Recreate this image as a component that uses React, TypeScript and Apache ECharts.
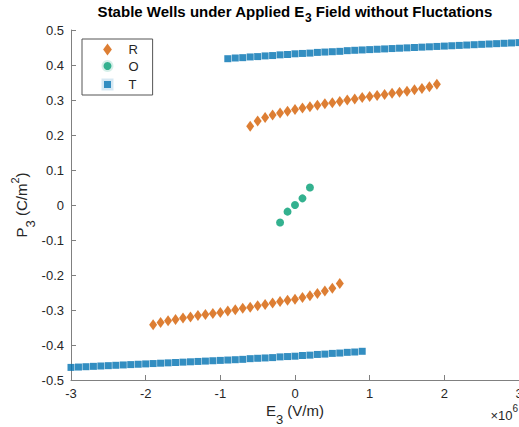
import React, { useEffect, useRef } from "react";
import * as echarts from "echarts";

// E3 in units of 1e6 V/m, P3 in C/m^2
const rUpperE = [-0.6, -0.5, -0.4, -0.3, -0.2, -0.1, 0.0, 0.1, 0.2, 0.3, 0.4, 0.5, 0.6, 0.7, 0.8, 0.9, 1.0, 1.1, 1.2, 1.3, 1.4, 1.5, 1.6, 1.7, 1.8, 1.9];
const rUpperP = [0.225, 0.240, 0.250, 0.257, 0.263, 0.268, 0.273, 0.277, 0.281, 0.285, 0.289, 0.292, 0.296, 0.300, 0.303, 0.307, 0.310, 0.313, 0.316, 0.319, 0.322, 0.325, 0.329, 0.333, 0.338, 0.345];
const rLowerE = [-1.9, -1.8, -1.7, -1.6, -1.5, -1.4, -1.3, -1.2, -1.1, -1.0, -0.9, -0.8, -0.7, -0.6, -0.5, -0.4, -0.3, -0.2, -0.1, 0.0, 0.1, 0.2, 0.3, 0.4, 0.5, 0.6];
const rLowerP = [-0.342, -0.336, -0.331, -0.327, -0.323, -0.320, -0.316, -0.313, -0.310, -0.307, -0.303, -0.299, -0.295, -0.292, -0.288, -0.284, -0.280, -0.276, -0.272, -0.269, -0.264, -0.259, -0.253, -0.246, -0.238, -0.224];
const oE = [-0.2, -0.1, 0.0, 0.1, 0.2];
const oP = [-0.05, -0.019, 0.0, 0.019, 0.05];
const tUpperE = [-0.9, -0.8, -0.7, -0.6, -0.5, -0.4, -0.3, -0.2, -0.1, 0.0, 0.1, 0.2, 0.3, 0.4, 0.5, 0.6, 0.7, 0.8, 0.9, 1.0, 1.1, 1.2, 1.3, 1.4, 1.5, 1.6, 1.7, 1.8, 1.9, 2.0, 2.1, 2.2, 2.3, 2.4, 2.5, 2.6, 2.7, 2.8, 2.9, 3.0];
const tUpperP = [0.418, 0.420, 0.421, 0.423, 0.424, 0.426, 0.427, 0.429, 0.430, 0.432, 0.433, 0.434, 0.436, 0.437, 0.438, 0.439, 0.441, 0.442, 0.443, 0.444, 0.445, 0.446, 0.447, 0.448, 0.449, 0.450, 0.451, 0.452, 0.453, 0.454, 0.455, 0.456, 0.457, 0.458, 0.459, 0.460, 0.461, 0.462, 0.463, 0.464];
const tLowerE = [-3.0, -2.9, -2.8, -2.7, -2.6, -2.5, -2.4, -2.3, -2.2, -2.1, -2.0, -1.9, -1.8, -1.7, -1.6, -1.5, -1.4, -1.3, -1.2, -1.1, -1.0, -0.9, -0.8, -0.7, -0.6, -0.5, -0.4, -0.3, -0.2, -0.1, 0.0, 0.1, 0.2, 0.3, 0.4, 0.5, 0.6, 0.7, 0.8, 0.9];
const tLowerP = [-0.464, -0.463, -0.462, -0.461, -0.460, -0.459, -0.458, -0.457, -0.456, -0.455, -0.454, -0.453, -0.452, -0.451, -0.450, -0.449, -0.448, -0.447, -0.446, -0.445, -0.444, -0.443, -0.442, -0.441, -0.439, -0.438, -0.437, -0.436, -0.434, -0.433, -0.432, -0.430, -0.429, -0.427, -0.426, -0.424, -0.423, -0.421, -0.420, -0.418];

const seriesNames = ["R", "O", "T"];
const colors = ["#D55E00", "#009E73", "#0072B2"];

const FONT = "'Liberation Sans', Arial, Helvetica, sans-serif";
const INK = "#262626";
const AXIS = "#808080";

type Piece = { t: string; size: number; dy?: number; bold?: boolean };

function zip(xs: number[], ys: number[]) {
  return xs.map((x, i) => [x, ys[i]]);
}

let measureCtx: CanvasRenderingContext2D | null = null;
function measure(p: Piece) {
  if (!measureCtx) measureCtx = document.createElement("canvas").getContext("2d");
  if (!measureCtx) return p.t.length * p.size * 0.55;
  measureCtx.font = `${p.bold ? "bold " : ""}${p.size}px ${FONT}`;
  return measureCtx.measureText(p.t).width;
}

// a line of text with sub/superscripts, laid out piece by piece
function textLine(pieces: Piece[], x: number, y: number, align: "center" | "right", color: string, rotation = 0) {
  const widths = pieces.map(measure);
  const total = widths.reduce((a, b) => a + b, 0);
  let cx = align === "center" ? -total / 2 : -total;
  const children = pieces.map((p, i) => {
    const el = {
      type: "text",
      x: cx,
      y: p.dy || 0,
      silent: true,
      style: {
        text: p.t,
        fontSize: p.size,
        fontWeight: p.bold ? "bold" : "normal",
        fontFamily: FONT,
        fill: color,
        textAlign: "left",
        textVerticalAlign: "middle",
      },
    };
    cx += widths[i];
    return el;
  });
  return { type: "group", x, y, rotation, silent: true, children };
}

export default function App() {
  const ref = useRef<HTMLDivElement>(null);

  useEffect(() => {
    if (!ref.current) return;
    const chart = echarts.init(ref.current, undefined, { renderer: "svg" });

    const option: any = {
      animation: false,
      backgroundColor: "#ffffff",
      textStyle: { fontFamily: FONT },
      grid: { left: 71, right: 0, top: 30, bottom: 47, containLabel: false, outerBoundsMode: "none" },
      xAxis: {
        type: "value",
        min: -3,
        max: 3,
        interval: 1,
        axisLine: { show: true, onZero: false, lineStyle: { color: AXIS, width: 1 } },
        axisTick: { show: true, inside: true, length: 5, lineStyle: { color: AXIS } },
        axisLabel: { color: INK, fontSize: 13, margin: 7, fontFamily: FONT, hideOverlap: false },
        splitLine: { show: false },
      },
      yAxis: {
        type: "value",
        min: -0.5,
        max: 0.5,
        interval: 0.1,
        axisLine: { show: true, onZero: false, lineStyle: { color: AXIS, width: 1 } },
        axisTick: { show: true, inside: true, length: 5, lineStyle: { color: AXIS } },
        axisLabel: {
          color: INK,
          fontSize: 13,
          margin: 7,
          fontFamily: FONT,
          formatter: (v: number) => (Math.abs(v) < 1e-9 ? "0" : v.toFixed(1)),
        },
        splitLine: { show: false },
      },
      legend: {
        orient: "vertical",
        left: 82,
        top: 39,
        padding: [4, 14, 2, 17],
        itemWidth: 32,
        itemHeight: 12,
        itemGap: 2,
        borderColor: "#555555",
        borderWidth: 1,
        backgroundColor: "#ffffff",
        textStyle: { color: INK, fontSize: 13, fontFamily: FONT },
        data: [
          { name: "R", icon: "path://M4,0 L8,5.5 L4,11 L0,5.5 Z" },
          { name: "O", icon: "circle", itemStyle: { borderColor: "#ffffff", borderWidth: 4 } },
          { name: "T", icon: "path://M0,0 L1,0 L1,1 L0,1 Z", itemStyle: { borderColor: "#ffffff", borderWidth: 5 } },
        ],
      },
      series: [
        {
          name: seriesNames[0],
          type: "scatter",
          symbol: "diamond",
          symbolSize: [8, 11],
          itemStyle: { color: colors[0] },
          data: [...zip(rUpperE, rUpperP), ...zip(rLowerE, rLowerP)],
        },
        {
          name: seriesNames[1],
          type: "scatter",
          symbol: "circle",
          symbolSize: 8,
          itemStyle: { color: colors[1] },
          data: zip(oE, oP),
        },
        {
          name: seriesNames[2],
          type: "scatter",
          symbol: "rect",
          symbolSize: 7,
          itemStyle: { color: colors[2] },
          data: [...zip(tUpperE, tUpperP), ...zip(tLowerE, tLowerP)],
        },
      ],
      graphic: [
        textLine(
          [
            { t: "Stable Wells under Applied E", size: 15, bold: true },
            { t: "3", size: 12, bold: true, dy: 6.5 },
            { t: " Field without Fluctations", size: 15, bold: true },
          ],
          295, 11.5, "center", "#000000"
        ),
        textLine(
          [
            { t: "E", size: 15 },
            { t: "3", size: 13, dy: 9.5 },
            { t: " (V/m)", size: 15 },
          ],
          295, 410, "center", INK
        ),
        textLine(
          [
            { t: "P", size: 15 },
            { t: "3", size: 13, dy: 9.5 },
            { t: " (C/m", size: 15 },
            { t: "2", size: 11, dy: -6 },
            { t: ")", size: 15 },
          ],
          21, 205, "center", INK, Math.PI / 2
        ),
        textLine(
          [
            { t: "×10", size: 13 },
            { t: "6", size: 10, dy: -7 },
          ],
          518, 415, "right", INK
        ),
      ],
    };

    chart.setOption(option);
    return () => chart.dispose();
  }, []);

  return (
    <div
      ref={ref}
      style={{ position: "fixed", left: 0, top: 0, width: 519, height: 427 }}
    />
  );
}
